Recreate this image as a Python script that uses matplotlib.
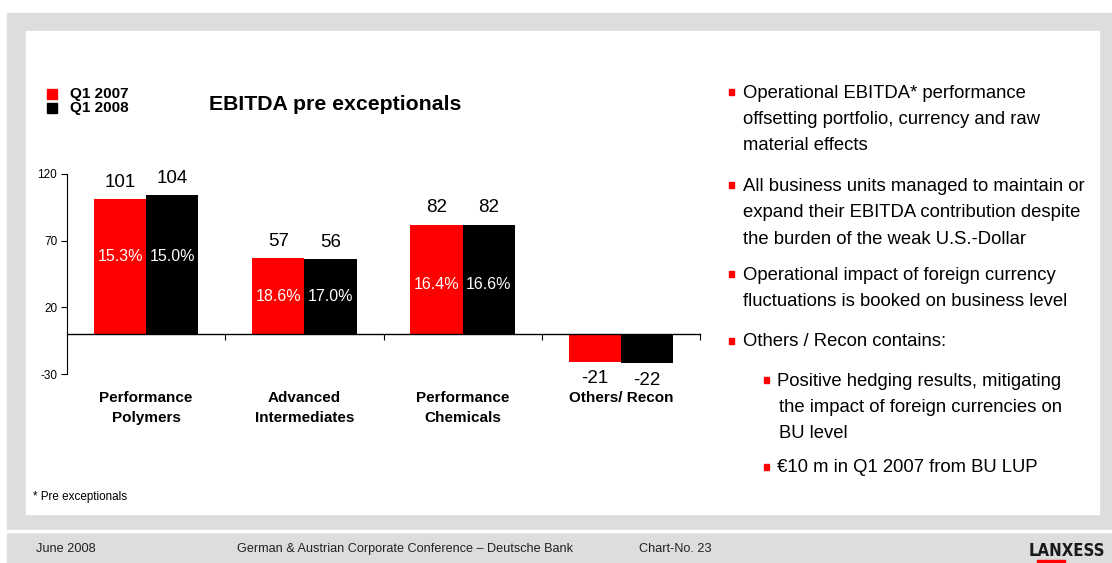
import matplotlib
matplotlib.use("Agg")
import matplotlib.pyplot as plt
import matplotlib.transforms as mtransforms
from matplotlib.patches import Rectangle

plt.rcParams['font.family'] = ['Liberation Sans', 'DejaVu Sans']

# data
categories = ['Performance\nPolymers', 'Advanced\nIntermediates', 'Performance\nChemicals', 'Others/ Recon']
series = ['Q1 2007', 'Q1 2008']
ebitda_2007 = [101, 57, 82, -21]
ebitda_2008 = [104, 56, 82, -22]
margin_2007 = ['15.3%', '18.6%', '16.4%', None]
margin_2008 = ['15.0%', '17.0%', '16.6%', None]
yticks = [120, 70, 20, -30]

bullets = [
    (0, ['Operational EBITDA* performance', 'offsetting portfolio, currency and raw', 'material effects']),
    (0, ['All business units managed to maintain or', 'expand their EBITDA contribution despite', 'the burden of the weak U.S.-Dollar']),
    (0, ['Operational impact of foreign currency', 'fluctuations is booked on business level']),
    (0, ['Others / Recon contains:']),
    (1, ['Positive hedging results, mitigating', 'the impact of foreign currencies on', 'BU level']),
    (1, ['\u20ac10 m in Q1 2007 from BU LUP']),
]

RED = '#ff0000'
GREY = '#dddddd'
W, H = 1112, 563

fig = plt.figure(figsize=(W / 100, H / 100), dpi=100)
fig.patch.set_facecolor('white')


def fx(x):
    return x / W


def fy(y):
    return 1 - y / H


# slide frame
fig.add_artist(Rectangle((fx(7), 0), 1 - fx(7), fy(13), transform=fig.transFigure, color=GREY, zorder=-3))
fig.add_artist(Rectangle((fx(26), fy(514)), fx(1099 - 26), (514 - 31) / H, transform=fig.transFigure,
                         color='white', zorder=-2))
fig.add_artist(Rectangle((fx(7), fy(532)), 1 - fx(7), 2.5 / H, transform=fig.transFigure,
                         color='white', zorder=-2))

# chart axes
ax = fig.add_axes([fx(67), fy(374), fx(700 - 67), (374 - 174) / H])
ax.set_facecolor('none')
ax.set_zorder(1)
x = list(range(len(categories)))
bw = 0.33
ax.bar([i - bw / 2 for i in x], ebitda_2007, bw, color=RED, zorder=2)
ax.bar([i + bw / 2 for i in x], ebitda_2008, bw, color='black', zorder=2)
ax.set_xlim(-0.5, len(categories) - 0.5)
ax.set_ylim(-30, 120)
ax.set_yticks(yticks)
ax.set_yticklabels([str(t) for t in yticks], fontsize=8.5)
ax.tick_params(axis='y', direction='out', length=4, width=0.8, pad=3)
ax.spines['top'].set_visible(False)
ax.spines['right'].set_visible(False)
ax.spines['left'].set_linewidth(0.8)
ax.spines['bottom'].set_position(('data', 0))
ax.spines['bottom'].set_linewidth(1.0)
ax.spines['bottom'].set_zorder(3)
ax.set_xticks([i + 0.5 for i in x])
ax.set_xticklabels([])
ax.tick_params(axis='x', direction='out', length=4, width=0.8)

# value labels
for i in x:
    for off, v in ((-bw / 2, ebitda_2007[i]), (bw / 2, ebitda_2008[i])):
        if v >= 0:
            ax.annotate(str(v), (i + off, v), xytext=(0, 6), textcoords='offset points',
                        ha='center', va='bottom', fontsize=13.5)
        else:
            ax.annotate(str(v), (i + off, v), xytext=(0, -6), textcoords='offset points',
                        ha='center', va='top', fontsize=13.5)

# margin labels inside bars
pct_pos = [58, 28, 37, None]
for i in x:
    if margin_2007[i]:
        ax.text(i - bw / 2, pct_pos[i], margin_2007[i], color='white', ha='center', va='center', fontsize=11.5)
        ax.text(i + bw / 2, pct_pos[i], margin_2008[i], color='white', ha='center', va='center', fontsize=11.5)

# category labels
trans = mtransforms.blended_transform_factory(ax.transData, fig.transFigure)
for i, c in enumerate(categories):
    ax.text(i, fy(391), c, transform=trans, ha='center', va='top', fontsize=11,
            fontweight='bold', linespacing=1.55)

# title and legend
fig.text(fx(209), fy(104), 'EBITDA pre exceptionals', fontsize=15.3, fontweight='bold', va='center')
for k, (lab, col) in enumerate(zip(series, [RED, 'black'])):
    yy = 94 + k * 14
    fig.add_artist(Rectangle((fx(47), fy(yy + 5)), fx(10), 10 / H, transform=fig.transFigure, color=col))
    fig.text(fx(70), fy(yy), lab, fontsize=11, fontweight='bold', va='center')

# bullet text
y0 = 93
ls = 26.5
para_gap = [0, 93, 89, 67, 39, 87]
cur = y0
for (lvl, lines), gap in zip(bullets, para_gap):
    cur = cur + gap if gap else cur
    if lvl == 0:
        bx, tx = 731, 743
    else:
        bx, tx = 766, 777
    fig.add_artist(Rectangle((fx(bx - 2.5), fy(cur + 1.5)), fx(5.5), 5.5 / H, transform=fig.transFigure, color=RED))
    for j, ln in enumerate(lines):
        fig.text(fx(tx + (2 if (lvl and j) else 0)), fy(cur + j * ls), ln, fontsize=13.3, va='center')

# footnote and footer
fig.text(fx(33), fy(497), '* Pre exceptionals', fontsize=8.4, va='center')
fig.text(fx(36), fy(549), 'June 2008', fontsize=9.2, va='center', color='#222222')
fig.text(fx(237), fy(549), 'German & Austrian Corporate Conference \u2013 Deutsche Bank', fontsize=9.1,
         va='center', color='#222222')
fig.text(fx(639), fy(549), 'Chart-No. 23', fontsize=9.1, va='center', color='#222222')
fig.text(fx(1067), fy(551), 'LANXESS', fontsize=12, fontweight='bold', va='center', ha='center',
         color='#1a1a1a', family='DejaVu Sans', fontstretch='condensed')
fig.add_artist(Rectangle((fx(1037), fy(563)), fx(28), 3 / H, transform=fig.transFigure, color=RED))

fig.savefig('out.png', dpi=100)
